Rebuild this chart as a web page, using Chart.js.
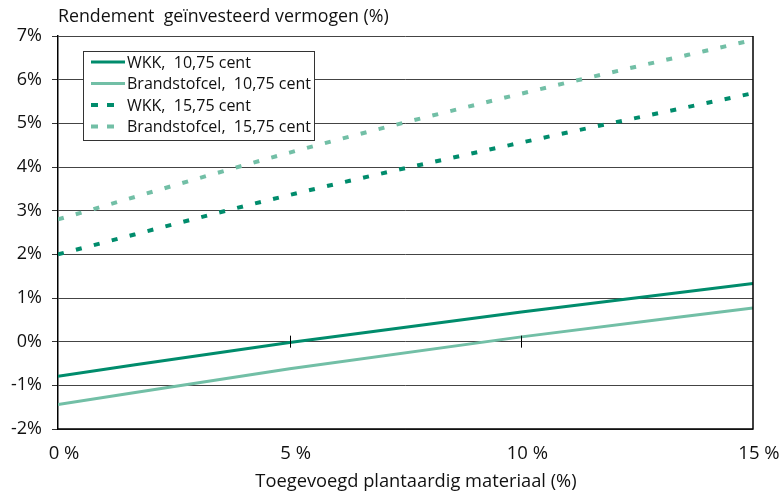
<!DOCTYPE html>
<html>
<head>
<meta charset="utf-8">
<script src="https://cdn.jsdelivr.net/npm/chart.js"></script>
<style>
  html, body { margin: 0; padding: 0; background: #fff; }
  #wrap { width: 782px; height: 494px; }
</style>
</head>
<body>
<div id="wrap"><canvas id="rendementChart" width="782" height="494"></canvas></div>
<script>
// percentage of added plant material (x) and return on invested capital (y, %)
const xPoints = [0, 5, 10, 15];
const wkk1075 = [-0.79, -0.02, 0.68, 1.33];
const brandstofcel1075 = [-1.44, -0.62, 0.11, 0.77];
const wkk1575 = [2.0, 3.36, 4.56, 5.69];
const brandstofcel1575 = [2.8, 4.33, 5.68, 6.91];
const seriesLabels = ['WKK,  10,75 cent', 'Brandstofcel,  10,75 cent', 'WKK,  15,75 cent', 'Brandstofcel,  15,75 cent'];
const xTicks = [0, 5, 10, 15];
const yTicks = [-2, -1, 0, 1, 2, 3, 4, 5, 6, 7];
const xMarks = [5, 10];

const darkTeal = '#008c6c';
const lightTeal = '#72bfa6';
const FONT = '"Open Sans", Lato, sans-serif';

function toPoints(values) {
    return xPoints.map((x, i) => ({ x, y: values[i] }));
}

// legend box, titles and small tick marks on the 0% line
const decorations = {
    id: 'decorations',
    afterDatasetsDraw(chart) {
        const ctx = chart.ctx;
        const xs = chart.scales.x;
        const ys = chart.scales.y;
        const area = chart.chartArea;
        ctx.save();

        // frame: right and bottom border
        ctx.strokeStyle = '#000';
        ctx.lineWidth = 1.5;
        ctx.beginPath();
        ctx.moveTo(area.right, area.top);
        ctx.lineTo(area.right, area.bottom);
        ctx.lineTo(area.left, area.bottom);
        ctx.stroke();

        // small marks on the 0% line
        ctx.lineWidth = 1;
        const y0 = ys.getPixelForValue(0);
        xMarks.forEach(v => {
            const px = Math.round(xs.getPixelForValue(v)) + 0.5;
            ctx.beginPath();
            ctx.moveTo(px, y0 - 6);
            ctx.lineTo(px, y0 + 6);
            ctx.stroke();
        });

        // legend
        const bx = 83.5, by = 51.5, bw = 231, bh = 89;
        ctx.fillStyle = '#fff';
        ctx.fillRect(bx, by, bw, bh);
        ctx.strokeStyle = '#333';
        ctx.lineWidth = 1;
        ctx.strokeRect(bx, by, bw, bh);
        ctx.font = '16px ' + FONT;
        ctx.textBaseline = 'middle';
        chart.data.datasets.forEach((ds, i) => {
            const ly = 62 + i * 21.5;
            const dashed = ds.borderDash.length > 0;
            ctx.strokeStyle = ds.borderColor;
            ctx.lineWidth = dashed ? 4 : 3;
            ctx.setLineDash(dashed ? [7, 9] : []);
            ctx.beginPath();
            ctx.moveTo(91, ly);
            ctx.lineTo(dashed ? 115 : 125, ly);
            ctx.stroke();
            ctx.setLineDash([]);
            ctx.fillStyle = '#111';
            ctx.fillText(ds.label, 127, ly + 1);
        });

        // titles
        ctx.fillStyle = '#111';
        ctx.font = '17.8px ' + FONT;
        ctx.textAlign = 'left';
        ctx.textBaseline = 'alphabetic';
        ctx.fillText('Rendement  geïnvesteerd vermogen (%)', 58, 22);
        ctx.font = '18.3px ' + FONT;
        ctx.textAlign = 'center';
        ctx.fillText('Toegevoegd plantaardig materiaal (%)', 416, 487);
        ctx.restore();
    }
};

function makeDataset(label, values, color, dashed) {
    return {
        label,
        data: toPoints(values),
        borderColor: color,
        backgroundColor: color,
        borderWidth: dashed ? 4 : 3,
        borderDash: dashed ? [6, 12.5] : [],
        pointRadius: 0,
        cubicInterpolationMode: 'monotone',
        fill: false
    };
}

new Chart(document.getElementById('rendementChart'), {
    type: 'line',
    data: {
        datasets: [
            makeDataset(seriesLabels[0], wkk1075, darkTeal, false),
            makeDataset(seriesLabels[1], brandstofcel1075, lightTeal, false),
            makeDataset(seriesLabels[2], wkk1575, darkTeal, true),
            makeDataset(seriesLabels[3], brandstofcel1575, lightTeal, true)
        ]
    },
    options: {
        responsive: false,
        animation: false,
        layout: { padding: { top: 36, right: 29, left: 0, bottom: 0 } },
        plugins: {
            legend: { display: false },
            title: { display: false },
            tooltip: { enabled: false }
        },
        scales: {
            x: {
                type: 'linear',
                min: 0,
                max: 15,
                afterBuildTicks: s => { s.ticks = xTicks.map(v => ({ value: v })); },
                afterFit: s => { s.height = 65; s.paddingLeft = 0; s.paddingRight = 0; },
                grid: { display: false, drawTicks: false },
                border: { display: false },
                ticks: {
                    padding: 14,
                    labelOffset: 6,
                    color: '#111',
                    font: { family: FONT, size: 18.5 },
                    maxRotation: 0,
                    callback: v => v + ' %'
                }
            },
            y: {
                min: -2,
                max: 7,
                afterBuildTicks: s => { s.ticks = yTicks.map(v => ({ value: v })); },
                afterFit: s => { s.width = 58; },
                grid: { color: '#444', lineWidth: 1, tickLength: 6, tickColor: '#333' },
                border: { display: true, color: '#000', width: 1.5 },
                ticks: {
                    padding: 10,
                    color: '#111',
                    font: { family: FONT, size: 18 },
                    callback: v => v + '%'
                }
            }
        }
    },
    plugins: [decorations]
});
</script>
</body>
</html>
